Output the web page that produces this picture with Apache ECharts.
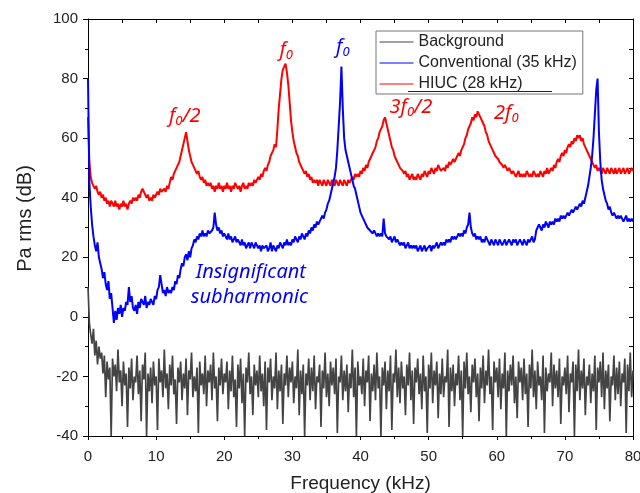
<!DOCTYPE html>
<html>
<head>
<meta charset="utf-8">
<script src="https://cdn.jsdelivr.net/npm/echarts@6/dist/echarts.min.js"></script>
<style>html,body{margin:0;padding:0;background:#fff}#c{width:640px;height:493px}</style>
</head>
<body>
<div id="c"></div>
<script>
// Frequency grid step (kHz): sample i is at i*freqStep, 0..80 kHz
const freqStep = 0.2;

const seriesNames = ['Background', 'Conventional (35 kHz)', 'HIUC (28 kHz)'];

const background = [
 10,-2,-6,-9,-4,-13,-8,-16,-10,-14,
 -12,-19,-13,-27,-15,-21,-17,-40,-14,-20,
 -16,-25,-11,-22,-18,-30,-15,-23,-19,-37,
 -17,-24,-14,-28,-20,-22,-13,-26,-18,-35,
 -16,-21,-12,-40,-19,-25,-17,-29,-15,-23,
 -20,-38,-14,-22,-18,-27,-11,-24,-19,-31,
 -16,-23,-13,-26,-21,-36,-17,-22,-15,-28,
 -19,-24,-14,-33,-18,-21,-12,-27,-20,-25,
 -17,-39,-15,-23,-19,-26,-13,-30,-18,-22,
 -16,-28,-12,-24,-20,-35,-17,-23,-14,-26,
 -19,-22,-15,-31,-18,-25,-13,-27,-21,-37,
 -16,-24,-14,-29,-19,-40,-17,-22,-12,-26,
 -20,-33,-16,-23,-18,-27,-13,-25,-19,-30,
 -15,-38,-17,-22,-14,-28,-20,-24,-12,-31,
 -18,-25,-16,-36,-19,-23,-13,-27,-17,-22,
 -15,-29,-20,-24,-11,-33,-18,-26,-16,-40,
 -19,-23,-14,-28,-17,-25,-13,-31,-20,-22,
 -16,-37,-18,-24,-12,-27,-19,-30,-15,-23,
 -17,-26,-14,-39,-20,-22,-13,-28,-18,-25,
 -16,-32,-19,-24,-11,-27,-17,-40,-15,-23,
 -20,-26,-14,-30,-18,-22,-13,-35,-19,-25,
 -16,-28,-12,-24,-20,-40,-17,-23,-15,-31,
 -18,-25,-13,-38,-19,-22,-11,-27,-17,-29,
 -15,-24,-20,-33,-16,-23,-12,-28,-18,-36,
 -17,-22,-14,-26,-19,-31,-13,-25,-20,-39,
 -16,-24,-12,-29,-18,-23,-15,-34,-19,-26,
 -14,-27,-20,-22,-11,-37,-17,-25,-16,-30,
 -19,-23,-13,-28,-18,-40,-15,-24,-12,-26,
 -20,-32,-16,-22,-14,-27,-19,-35,-17,-24,
 -13,-29,-18,-23,-11,-26,-20,-38,-15,-22,
 -17,-27,-14,-31,-19,-24,-12,-40,-18,-25,
 -16,-23,-13,-29,-20,-34,-15,-22,-17,-28,
 -14,-26,-19,-37,-16,-24,-11,-27,-18,-31,
 -15,-23,-20,-28,-13,-39,-17,-25,-19,-22,
 -12,-30,-16,-24,-18,-27,-14,-36,-20,-23,
 -17,-26,-13,-32,-19,-22,-15,-40,-16,-25,
 -11,-28,-18,-24,-14,-33,-20,-23,-16,-29,
 -19,-25,-13,-38,-17,-22,-15,-27,-12,-31,
 -18,-24,-16,-35,-20,-23,-13,-28,-17,-26,
 -15,-30,-19,-22,-14,-39,-16,-25,-12,-27,
 -18
];

const conventional = [
 80,45,37,31,27,24,22,25,20,18,
 16,13,15,11,9,12,6,8,3,-2,
 2,-1,3,1,4,0,3,2,5,4,
 10,5,7,3,2,4,1,5,3,6,
 6,4,7,3,5,4,6,5,4,7,
 6,9,10,14,11,8,9,7,10,8,
 9,8,10,9,12,11,14,13,16,18,
 17,20,21,19,22,20,23,24,26,25,
 27,26,28,27,29,27,28,27,29,28,
 28,29,30,35,31,29,30,28,29,27,
 28,27,26,28,26,27,25,26,27,25,
 26,25,24,26,24,25,23,24,25,23,
 25,24,23,25,24,23,24,22,24,23,
 23,24,22,23,25,22,24,23,22,24,
 23,25,24,23,25,24,26,24,25,24,
 26,25,27,26,25,27,26,28,27,26,
 28,27,29,28,30,29,31,30,32,31,
 32,33,34,33,35,36,38,39,41,43,
 45,47,50,56,64,72,84,70,60,56,
 54,52,50,48,46,44,43,41,39,37,
 35,34,33,32,31,30,30,29,29,28,
 29,28,27,28,27,28,27,33,28,27,
 27,26,27,25,26,27,25,26,25,24,
 25,24,25,23,24,25,23,24,23,24,
 23,24,22,23,24,22,23,24,22,23,
 23,24,22,24,23,24,25,23,24,25,
 24,25,24,26,25,26,25,27,26,27,
 26,27,28,27,28,27,29,28,30,31,
 35,30,28,27,28,26,27,26,27,25,
 26,25,27,26,25,24,26,25,24,26,
 25,24,26,25,24,25,26,24,25,26,
 25,24,26,25,26,24,25,26,25,24,
 26,25,24,26,25,26,27,25,26,29,
 30,31,30,29,31,30,32,31,30,32,
 31,32,31,33,32,33,32,34,33,34,
 33,34,35,34,35,36,35,36,37,36,
 37,38,37,39,38,40,42,44,47,50,
 54,60,68,76,80,62,52,46,43,41,
 39,38,36,37,35,34,35,34,33,34,
 33,34,33,32,33,34,32,33,32,33,
 32
];

const hiuc = [
 67,52,47,45,44,43,44,42,41,42,
 40,41,39,40,38,39,37,39,38,37,
 39,37,38,36,38,37,39,37,38,36,
 38,39,38,40,39,40,39,41,40,42,
 43,42,41,40,41,39,40,39,41,40,
 41,42,41,43,42,42,43,42,44,43,
 45,47,46,48,48,50,51,52,54,56,
 58,60,62,59,56,54,52,51,50,49,
 48,49,47,46,47,45,46,44,45,44,
 45,43,44,42,44,43,45,43,44,42,
 44,43,45,43,44,42,44,43,45,44,
 43,44,42,44,45,43,44,43,45,44,
 45,44,46,45,46,47,46,48,47,49,
 50,49,51,52,54,55,56,58,57,63,
 70,75,80,83,84,85,82,78,72,66,
 62,59,57,55,54,52,51,50,49,48,
 49,47,48,46,47,45,46,45,46,44,
 46,45,44,46,45,44,46,45,44,46,
 45,44,46,45,44,46,45,44,46,45,
 44,46,45,46,47,46,48,47,48,47,
 49,48,50,49,51,50,52,53,54,55,
 56,57,59,60,62,63,64,66,67,65,
 63,61,59,57,56,54,53,52,51,50,
 50,49,48,49,47,48,46,47,48,46,
 47,46,48,47,46,48,47,49,48,47,
 49,48,50,49,48,50,49,51,50,49,
 49,50,49,51,50,52,51,52,53,52,
 53,54,55,54,56,57,58,60,61,63,
 64,65,67,66,68,67,69,68,67,66,
 65,64,62,61,59,58,57,56,55,54,
 54,53,52,52,51,50,51,50,49,50,
 49,48,49,48,47,48,49,47,48,47,
 48,47,49,48,47,48,47,49,48,47,
 48,47,49,48,47,49,48,50,48,49,
 50,49,51,50,52,53,52,54,55,54,
 56,55,57,58,57,59,58,60,59,61,
 60,61,59,60,58,57,56,55,54,53,
 52,51,50,51,49,50,49,48,50,49,
 48,50,49,48,50,49,48,50,48,49,
 50,48,49,50,48,49,50,48,49,50,
 49
];

// Annotations: [rich text, colour, frequency (kHz), level (dB)] at text centre
const annotations = [
  ['{i|f}{s|0}{i|/2}', '#ff0000', 14.2, 67.4],
  ['{i|f}{s|0}', '#ff0000', 29.1, 89.6],
  ['{i|f}{s|0}', '#0000ff', 37.4, 90.6],
  ['{i|3f}{s|0}{i|/2}', '#ff0000', 47.4, 70.5],
  ['{i|2f}{s|0}', '#ff0000', 61.4, 68.4],
  ['{i|Insignificant}', '#0000ff', 23.9, 15.1],
  ['{i|subharmonic}', '#0000ff', 23.7, 6.7]
];

function pairs(values) {
  return values.map((v, i) => [Math.round(i * freqStep * 10) / 10, v]);
}

const chart = echarts.init(document.getElementById('c'), null, {renderer: 'canvas'});
const labelFont = 'Liberation Sans, Arial, sans-serif';

const option = {
  animation: false,
  backgroundColor: '#fff',
  grid: {left: 88, right: 7, top: 19, bottom: 57, containLabel: false, outerBoundsMode: 'none'},
  legend: {
    data: seriesNames,
    orient: 'vertical',
    left: 376, top: 31,
    itemWidth: 34, itemHeight: 10, itemGap: 5,
    padding: [3, 6, 2, 3],
    borderColor: '#777', borderWidth: 1, borderRadius: 0,
    backgroundColor: '#fff',
    itemStyle: {opacity: 0},
    lineStyle: {width: 1},
    textStyle: {fontFamily: labelFont, fontSize: 16, color: '#222', lineHeight: 15}
  },
  xAxis: [{
    type: 'value', min: 0, max: 80, interval: 10,
    name: 'Frequency (kHz)', nameLocation: 'middle', nameGap: 38,
    nameTextStyle: {fontFamily: labelFont, fontSize: 19, color: '#222'},
    axisLine: {show: true, onZero: false, lineStyle: {color: '#000', width: 1}},
    axisTick: {show: true, inside: false, length: 4, lineStyle: {color: '#000'}},
    minorTick: {show: true, splitNumber: 2, length: 3, lineStyle: {color: '#000'}},
    axisLabel: {fontFamily: labelFont, fontSize: 15, color: '#222', margin: 13},
    splitLine: {show: false}
  }, {
    type: 'value', position: 'top', min: 0, max: 80, interval: 5,
    axisLine: {show: true, onZero: false, lineStyle: {color: '#000', width: 1}},
    axisTick: {show: true, inside: true, length: 4, lineStyle: {color: '#000'}},
    axisLabel: {show: false}, splitLine: {show: false}
  }],
  yAxis: [{
    type: 'value', min: -40, max: 100, interval: 20,
    name: 'Pa rms (dB)', nameLocation: 'middle', nameGap: 53, nameRotate: 90,
    nameTextStyle: {fontFamily: labelFont, fontSize: 20, color: '#222', padding: [0, 0, 0, 18]},
    axisLine: {show: true, onZero: false, lineStyle: {color: '#000', width: 1}},
    axisTick: {show: true, inside: false, length: 5, lineStyle: {color: '#000'}},
    minorTick: {show: true, splitNumber: 2, length: 3, lineStyle: {color: '#000'}},
    axisLabel: {fontFamily: labelFont, fontSize: 15, color: '#222', margin: 10},
    splitLine: {show: false}
  }, {
    type: 'value', position: 'right', min: -40, max: 100, interval: 10,
    axisLine: {show: true, onZero: false, lineStyle: {color: '#000', width: 1}},
    axisTick: {show: true, inside: true, length: 4, lineStyle: {color: '#000'}},
    axisLabel: {show: false}, splitLine: {show: false}
  }],
  series: [{
    name: seriesNames[0], type: 'line', data: pairs(background),
    symbol: 'none', lineStyle: {color: '#444', width: 1.7}, itemStyle: {color: '#444'}, z: 1
  }, {
    name: seriesNames[2], type: 'line', data: pairs(hiuc),
    symbol: 'none', lineStyle: {color: '#ff0000', width: 2}, itemStyle: {color: '#ff0000'}, z: 2
  }, {
    name: seriesNames[1], type: 'line', data: pairs(conventional),
    symbol: 'none', lineStyle: {color: '#0000ff', width: 2}, itemStyle: {color: '#0000ff'}, z: 3
  }]
};
chart.setOption(option);

const graphics = annotations.map(([txt, color, f, db]) => {
  const p = chart.convertToPixel({xAxisIndex: 0, yAxisIndex: 0}, [f, db]);
  return {
    type: 'text', x: p[0], y: p[1], z: 10,
    style: {
      text: txt, align: 'center', verticalAlign: 'middle',
      rich: {
        i: {fontFamily: 'Noto Sans', fontStyle: 'italic', fontSize: 20, lineHeight: 24, color: color, fill: color},
        s: {fontFamily: 'Noto Sans', fontStyle: 'italic', fontSize: 13, lineHeight: 12, verticalAlign: 'bottom', color: color, fill: color}
      }
    }
  };
});
// dark stretch along the bottom of the legend frame, as in the source figure
graphics.push({type: 'line', z: 20, shape: {x1: 408, y1: 91.5, x2: 552, y2: 91.5}, style: {stroke: '#222', lineWidth: 1}});
chart.setOption({graphic: graphics});
</script>
</body>
</html>
